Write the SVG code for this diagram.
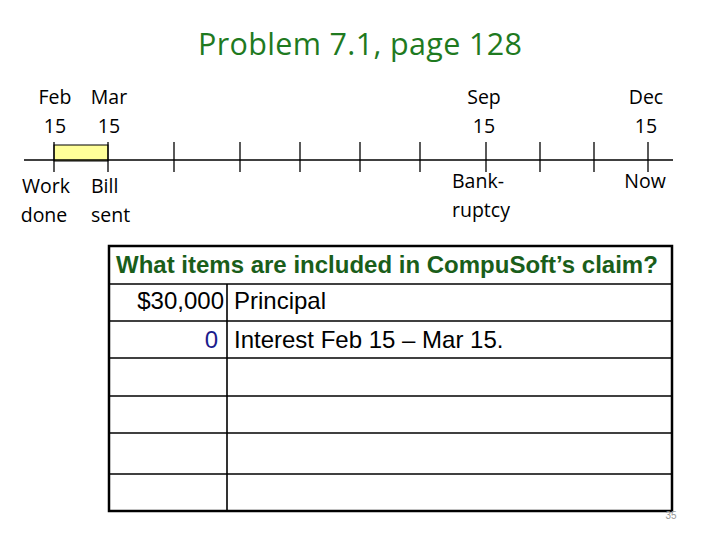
<svg xmlns="http://www.w3.org/2000/svg" width="720" height="540" viewBox="0 0 720 540">
<style>
.t{font-family:"Open Sans",Lato,"Liberation Sans",sans-serif;font-size:19.5px;fill:#000}
.c{text-anchor:middle}
.tk{stroke:#000;stroke-width:1.3}
.tb{font-family:"Liberation Sans",Arial,sans-serif;font-size:24px;fill:#000}
.gl{stroke:#000;stroke-width:1.6}
</style>
<rect width="720" height="540" fill="#fff"/>
<text x="198" y="55" class="t" style="font-size:30.5px;fill:#1f7a1f" textLength="324" lengthAdjust="spacing">Problem 7.1, page 128</text>
<g id="timeline">
<rect x="54" y="145" width="54" height="16" fill="#ffff99" stroke="#000" stroke-width="1"/>
<line x1="24" y1="160" x2="673" y2="160" class="tk"/>
<g class="tk">
<line x1="54" y1="142" x2="54" y2="172"/>
<line x1="108" y1="142" x2="108" y2="172"/>
<line x1="174" y1="142" x2="174" y2="172"/>
<line x1="240" y1="142" x2="240" y2="172"/>
<line x1="300" y1="142" x2="300" y2="172"/>
<line x1="360" y1="142" x2="360" y2="172"/>
<line x1="420" y1="142" x2="420" y2="172"/>
<line x1="486" y1="142" x2="486" y2="172"/>
<line x1="540" y1="142" x2="540" y2="172"/>
<line x1="594" y1="142" x2="594" y2="172"/>
<line x1="648" y1="142" x2="648" y2="172"/>
</g>
</g>
<g id="labels">
<text x="55" y="104" class="t c">Feb</text>
<text x="55" y="133" class="t c">15</text>
<text x="109" y="104" class="t c">Mar</text>
<text x="109" y="133" class="t c">15</text>
<text x="484" y="104" class="t c">Sep</text>
<text x="484" y="133" class="t c">15</text>
<text x="646" y="104" class="t c">Dec</text>
<text x="646" y="133" class="t c">15</text>
<text x="46" y="193" class="t c">Work</text>
<text x="44" y="222" class="t c">done</text>
<text x="91" y="193" class="t">Bill</text>
<text x="91" y="222" class="t">sent</text>
<text x="452" y="188" class="t">Bank-</text>
<text x="452" y="217" class="t">ruptcy</text>
<text x="645" y="188" class="t c">Now</text>
</g>
<g id="table">
<rect x="109" y="246" width="563" height="265" fill="#fff" stroke="#000" stroke-width="2.5"/>
<g class="gl">
<line x1="109" y1="284" x2="672" y2="284"/>
<line x1="109" y1="321" x2="672" y2="321"/>
<line x1="109" y1="358" x2="672" y2="358"/>
<line x1="109" y1="396" x2="672" y2="396"/>
<line x1="109" y1="433" x2="672" y2="433"/>
<line x1="109" y1="474" x2="672" y2="474"/>
<line x1="227" y1="284" x2="227" y2="511"/>
</g>
<text x="116" y="273" class="tb" style="font-weight:bold;font-size:24px;fill:#1a5e1a">What items are included in CompuSoft’s claim?</text>
<text x="224" y="309" class="tb" text-anchor="end">$30,000</text>
<text x="234" y="309" class="tb">Principal</text>
<text x="218" y="348" class="tb" text-anchor="end" style="fill:#1c1c8c">0</text>
<text x="234" y="348" class="tb">Interest Feb 15 – Mar 15.</text>
</g>
<text x="671" y="519" text-anchor="middle" style="font-family:'Liberation Sans',sans-serif;font-size:10px;fill:#999">35</text>
</svg>
